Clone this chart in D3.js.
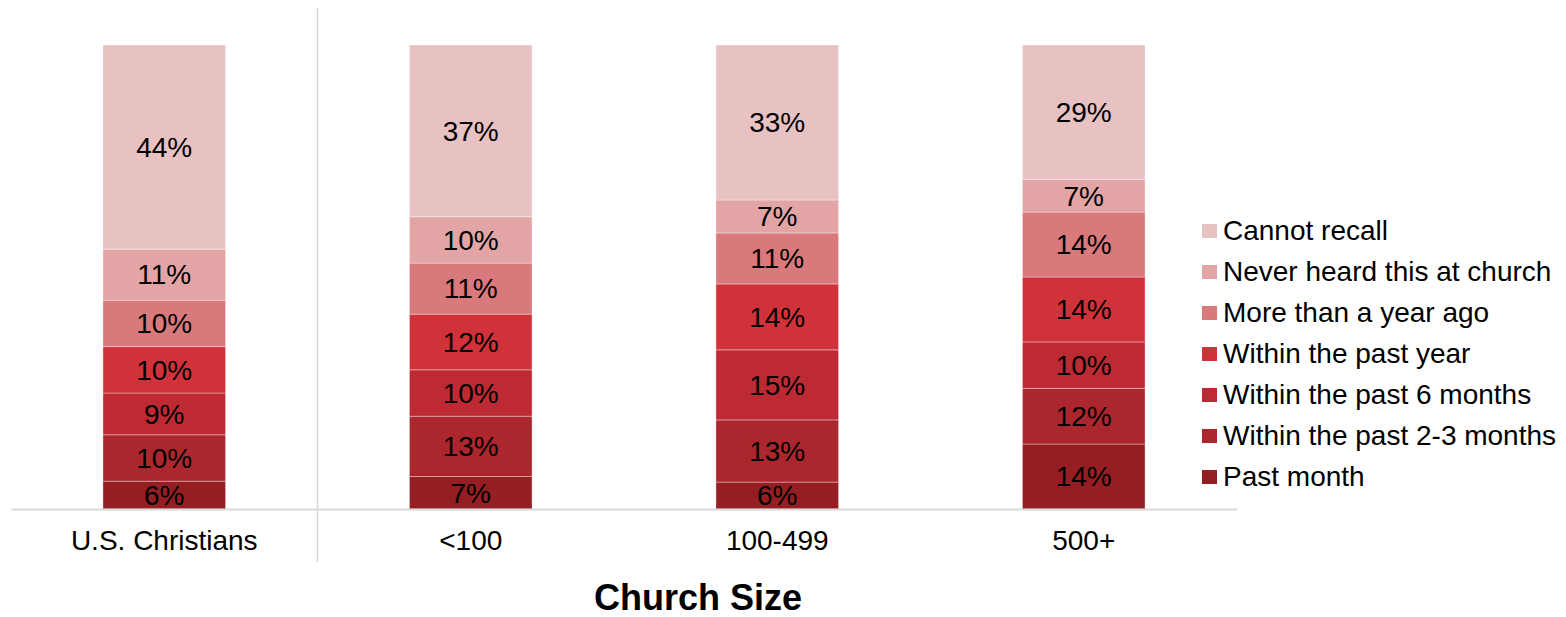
<!DOCTYPE html>
<html>
<head>
<meta charset="utf-8">
<script src="https://cdn.jsdelivr.net/npm/d3@7"></script>
<style>
  body { margin: 0; background: #fff; }
  text { font-family: "Liberation Sans", Arial, sans-serif; fill: #000; }
</style>
</head>
<body>
<svg id="chart"></svg>
<script>
const width = 1566;
const height = 617;

// data
const categories = ["U.S. Christians", "<100", "100-499", "500+"];
const seriesNames = ["Past month", "Within the past 2-3 months", "Within the past 6 months",
    "Within the past year", "More than a year ago", "Never heard this at church", "Cannot recall"];
const pastMonth      = [6, 7, 5.8, 14];
const past2to3Months = [10, 13, 13.4, 12];
const past6Months    = [9, 10, 15.1, 10];
const pastYear       = [10, 12, 14.2, 14];
const moreThanYear   = [10, 11, 11.0, 14];
const neverHeard     = [11, 10, 7.1, 7];
const cannotRecall   = [44, 37, 33.4, 29];
const seriesValues = [pastMonth, past2to3Months, past6Months, pastYear, moreThanYear, neverHeard, cannotRecall];
const colors = ["#951e22", "#ab262d", "#bd2a33", "#d13239", "#da797c", "#e3a4a5", "#e8c2c3"];
const axisTitle = "Church Size";

const rows = categories.map((c, i) => {
    const r = {category: c};
    seriesNames.forEach((s, j) => r[s] = seriesValues[j][i]);
    return r;
});

const svg = d3.select('#chart')
    .attr('width', width)
    .attr('height', height);

const x = d3.scaleBand()
    .domain(categories)
    .range([11, 1237])
    .paddingInner(0.6)
    .paddingOuter(0.3);

const y = d3.scaleLinear()
    .domain([0, 100])
    .range([509, 45]);

const stack = d3.stack().keys(seriesNames)(rows);

// segments
const layer = svg.append('g').selectAll('g')
    .data(stack)
    .join('g')
    .attr('fill', (d, i) => colors[i]);

layer.selectAll('rect')
    .data(d => d)
    .join('rect')
    .attr('x', d => x(d.data.category))
    .attr('width', x.bandwidth())
    .attr('y', d => y(d[1]))
    .attr('height', d => y(d[0]) - y(d[1]))
    .attr('stroke', 'rgba(255,255,255,0.35)')
    .attr('stroke-width', 1);

// data labels
layer.selectAll('text')
    .data(d => d)
    .join('text')
    .attr('x', d => x(d.data.category) + x.bandwidth() / 2)
    .attr('y', d => (y(d[0]) + y(d[1])) / 2)
    .attr('dy', '0.35em')
    .attr('text-anchor', 'middle')
    .style('font-size', '28px')
    .text(d => d3.format('.0f')(d[1] - d[0]) + '%');

// x axis
const xAxis = svg.append('g')
    .attr('transform', 'translate(0,509)')
    .call(d3.axisBottom(x).tickSize(0).tickPadding(21));
xAxis.select('.domain').attr('stroke', '#d9d9d9').attr('stroke-width', 2);
xAxis.selectAll('.tick text')
    .style('font-size', '28px')
    .style('font-family', '"Liberation Sans", Arial, sans-serif')
    .attr('fill', '#000');

// separator between total and church sizes
const sepX = (x(categories[0]) + x.bandwidth() + x(categories[1])) / 2;
svg.append('line')
    .attr('x1', sepX).attr('x2', sepX)
    .attr('y1', 8).attr('y2', 562)
    .attr('stroke', '#d9d9d9')
    .attr('stroke-width', 1.5);

// axis title
svg.append('text')
    .attr('x', 698)
    .attr('y', 610)
    .attr('text-anchor', 'middle')
    .style('font-size', '36px')
    .style('font-weight', 'bold')
    .text(axisTitle);

// legend (top to bottom: reverse of stack order)
const legendNames = seriesNames.slice().reverse();
const legendColors = colors.slice().reverse();
const legend = svg.append('g')
    .attr('transform', 'translate(1202,230)')
    .selectAll('g')
    .data(legendNames)
    .join('g')
    .attr('transform', (d, i) => `translate(0,${i * 41})`);

legend.append('rect')
    .attr('x', 0).attr('y', -6)
    .attr('width', 15).attr('height', 14)
    .attr('fill', (d, i) => legendColors[i]);

legend.append('text')
    .attr('x', 21)
    .attr('y', 0)
    .attr('dy', '0.35em')
    .style('font-size', '28px')
    .text(d => d);
</script>
</body>
</html>
